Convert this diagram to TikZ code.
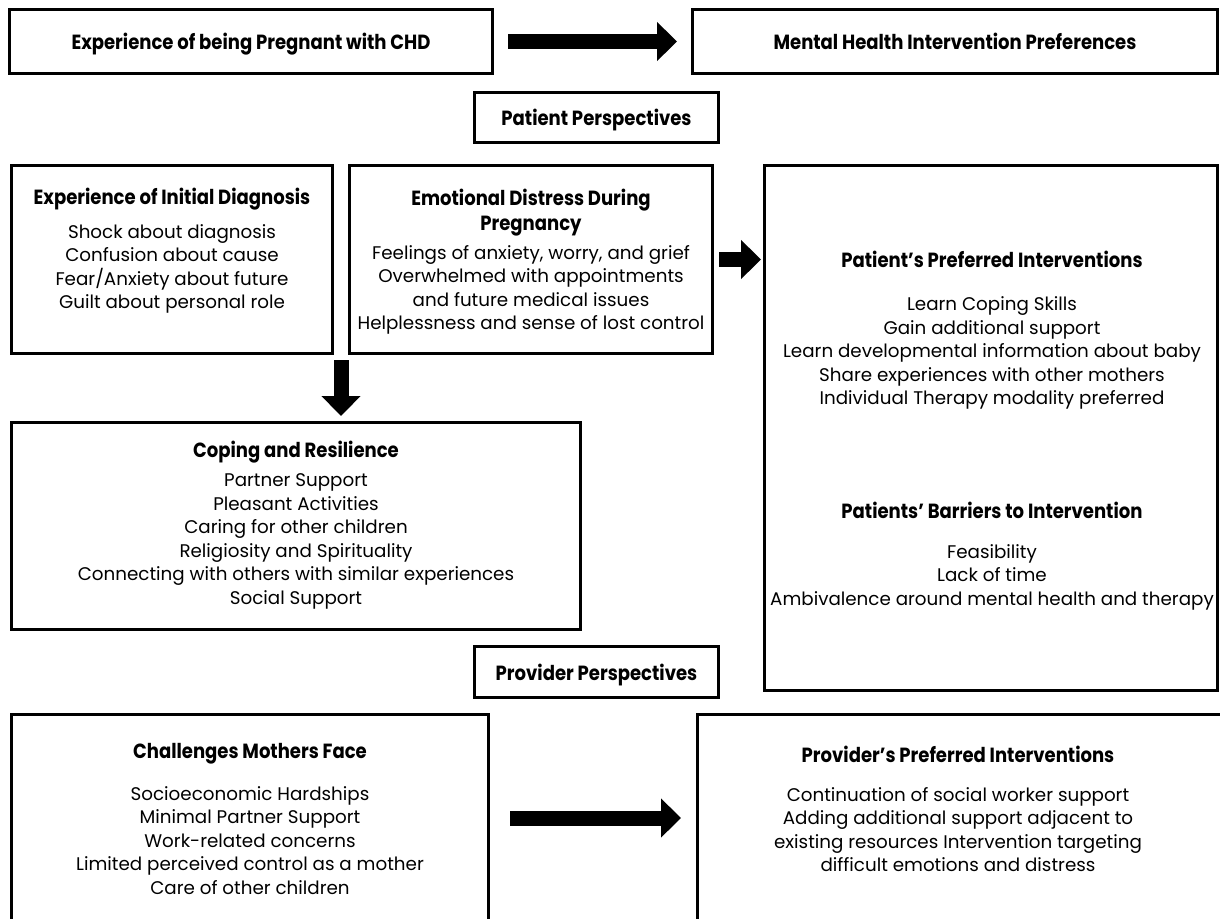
\documentclass[tikz,border=0pt]{standalone}
\usepackage{fontspec}
\setmainfont{Poppins}
\newfontfamily\headfont[FakeStretch=0.88]{Poppins}
\usetikzlibrary{arrows.meta}

\tikzset{
  frame/.style={draw, line width=3pt, inner sep=0pt},
  headtext/.style={font=\headfont\bfseries\fontsize{20.5}{25}\selectfont, align=center, inner sep=0pt},
  titletext/.style={headtext, yshift=-2pt},
  bodytext/.style={font=\fontsize{18.3}{23.5}\selectfont, align=center, inner sep=0pt},
  blockarrow/.style={line width=15pt, -{Triangle[length=20pt,width=38pt]}}
}

\begin{document}
\begin{tikzpicture}[x=1pt,y=1pt,yscale=-1,xscale=1]
\path[use as bounding box] (0,0) rectangle (1220,918);
\clip (0,0) rectangle (1220,918);

%Shape: Rectangle - top row
\node[frame, minimum width=483pt, minimum height=64pt, headtext, text depth=0pt] (expr) at (251,41.5) {Experience of being Pregnant with CHD};
\node[frame, minimum width=525pt, minimum height=64pt, headtext] (mhp) at (955,41.5) {Mental Health Intervention Preferences};
%Shape: Rectangle - section labels
\node[frame, minimum width=244pt, minimum height=50pt, headtext, text depth=0pt] (ptp) at (596.5,117.5) {Patient Perspectives};
\node[frame, minimum width=244pt, minimum height=51pt, headtext, text depth=0pt] (prp) at (596.5,672) {Provider Perspectives};
%Shape: Rectangle - content boxes
\node[frame, minimum width=321pt, minimum height=188pt] (diag) at (172,259.5) {};
\node[frame, minimum width=363pt, minimum height=188pt] (emo) at (531,259.5) {};
\node[frame, minimum width=453pt, minimum height=525pt] (pref) at (991,428) {};
\node[frame, minimum width=569pt, minimum height=207pt] (cope) at (296,526) {};
\node[frame, minimum width=477pt, minimum height=207pt] (chal) at (250,818) {};
\node[frame, minimum width=527.5pt, minimum height=207pt] (prov) at (961.25,818) {};

% Text Node
\node[titletext] (diagT) at (172,197) {Experience of Initial Diagnosis};
\node[bodytext] (diagB) at (172,269) {Shock about diagnosis\\Confusion about cause\\Fear/Anxiety about future\\Guilt about personal role};
% Text Node
\node[titletext] (emoT) at (531,211) {Emotional Distress During\\Pregnancy};
\node[bodytext] (emoB) at (531,290) {Feelings of anxiety, worry, and grief\\Overwhelmed with appointments\\and future medical issues\\Helplessness and sense of lost control};
% Text Node
\node[titletext] (prefT) at (992,257) {Patient’s Preferred Interventions};
\node[bodytext] (prefB) at (992,353) {Learn Coping Skills\\Gain additional support\\Learn developmental information about baby\\Share experiences with other mothers\\Individual Therapy modality preferred};
% Text Node
\node[titletext] (barT) at (992,508) {Patients’ Barriers to Intervention};
\node[bodytext] (barB) at (992,577) {Feasibility\\Lack of time\\Ambivalence around mental health and therapy};
% Text Node
\node[titletext] (copeT) at (296,450) {Coping and Resilience};
\node[bodytext] (copeB) at (296,541.5) {Partner Support\\Pleasant Activities\\Caring for other children\\Religiosity and Spirituality\\Connecting with others with similar experiences\\Social Support};
% Text Node
\node[titletext] (chalT) at (250,752) {Challenges Mothers Face};
\node[bodytext] (chalB) at (250,840.5) {Socioeconomic Hardships\\Minimal Partner Support\\Work-related concerns\\Limited perceived control as a mother\\Care of other children};
% Text Node
\node[titletext] (provT) at (958,752) {Provider’s Preferred Interventions};
\node[bodytext] (provB) at (958,829.5) {Continuation of social worker support\\Adding additional support adjacent to\\existing resources Intervention targeting\\difficult emotions and distress};

%Straight Lines
\coordinate (split) at (341,354);
\draw[blockarrow, shorten <=14pt, shorten >=14pt] (expr) -- (mhp);
\draw[blockarrow, shorten <=5pt, shorten >=2pt] (emo.east) -- (emo.east -| pref.west);
\draw[blockarrow, shorten <=6pt, shorten >=5pt] (split) -- (split |- cope.north);
\draw[blockarrow, shorten <=20pt, shorten >=15pt] (chal) -- (prov);

\end{tikzpicture}
\end{document}
